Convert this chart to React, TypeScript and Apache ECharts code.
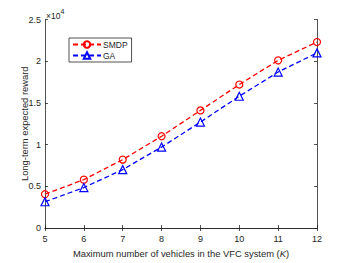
import React, { useEffect, useRef } from "react";
import * as echarts from "echarts";

const categories = [5, 6, 7, 8, 9, 10, 11, 12];
const smdpValues = [4050, 5800, 8200, 11000, 14100, 17200, 20100, 22300];
const gaValues = [3150, 4850, 7000, 9700, 12700, 15800, 18700, 21000];

const FONT = "Liberation Sans";
const AXIS = "#262626";

export default function App() {
  const ref = useRef<HTMLDivElement>(null);
  useEffect(() => {
    if (!ref.current) return;
    const chart = echarts.init(ref.current, null, { renderer: "svg" });
    const mk = (vals: number[]) => categories.map((c, i) => [c, vals[i]]);
    const axisCommon = {
      axisLine: { show: true, lineStyle: { color: AXIS, width: 0.8 } },
      axisTick: { show: true, inside: true, length: 3, lineStyle: { color: AXIS, width: 0.8 } },
      splitLine: { show: false },
    };
    chart.setOption({
      animation: false,
      backgroundColor: "#fff",
      textStyle: { fontFamily: FONT },
      grid: { left: 45, right: 33, top: 19.5, bottom: 29, containLabel: false },
      xAxis: [
        {
          type: "value",
          min: 5,
          max: 12,
          interval: 1,
          ...axisCommon,
          axisLabel: { color: AXIS, fontSize: 9, fontFamily: FONT, margin: 6 },
          name: "{a|Maximum number of vehicles in the VFC system (}{i|K}{a|)}",
          nameLocation: "middle",
          nameGap: 21,
          nameMoveOverlap: false,
          nameTextStyle: {
            rich: {
              a: { fontSize: 9.4, color: AXIS, fontFamily: FONT },
              i: { fontSize: 9.4, color: AXIS, fontFamily: FONT, fontStyle: "italic" },
            },
          },
        },
        {
          type: "value",
          position: "top",
          min: 5,
          max: 12,
          interval: 1,
          ...axisCommon,
          axisLabel: { show: false },
        },
      ],
      yAxis: [
        {
          type: "value",
          min: 0,
          max: 25000,
          interval: 5000,
          ...axisCommon,
          axisLabel: {
            color: AXIS,
            fontSize: 9,
            fontFamily: FONT,
            margin: 4,
            formatter: (v: number) => String(v / 10000),
          },
          name: "Long-term expected reward",
          nameLocation: "middle",
          nameGap: 16,
          nameMoveOverlap: false,
          nameTextStyle: { fontSize: 9.4, color: AXIS, fontFamily: FONT },
        },
        {
          type: "value",
          position: "right",
          min: 0,
          max: 25000,
          interval: 5000,
          ...axisCommon,
          axisLabel: { show: false },
        },
      ],
      legend: {
        orient: "vertical",
        left: 69,
        top: 38,
        width: 56,
        itemWidth: 28,
        itemHeight: 8,
        itemGap: 2,
        padding: [2, 4, 2, 3],
        borderColor: AXIS,
        borderWidth: 0.8,
        backgroundColor: "#fff",
        textStyle: { fontSize: 8.5, color: AXIS, fontFamily: FONT, padding: [0, 0, 0, -3] },
        data: ["SMDP", "GA"],
      },
      graphic: [
        {
          type: "text",
          left: 46,
          top: 8,
          style: {
            text: "{a|×10}{s|4}",
            rich: {
              a: { fontSize: 8.5, fill: AXIS, fontFamily: FONT, verticalAlign: "bottom" },
              s: { fontSize: 7, fill: AXIS, fontFamily: FONT, verticalAlign: "top", padding: [0, 0, 5, 0] },
            },
          },
        },
      ],
      series: [
        {
          name: "SMDP",
          type: "line",
          data: mk(smdpValues),
          symbol: "circle",
          symbolSize: 7,
          lineStyle: { color: "#FF0000", width: 1.3, type: [5, 3] },
          itemStyle: { color: "rgba(255,255,255,0)", borderColor: "#FF0000", borderWidth: 1.2 },
          z: 3,
        },
        {
          name: "GA",
          type: "line",
          data: mk(gaValues),
          symbol: "triangle",
          symbolSize: 8,
          lineStyle: { color: "#0000FF", width: 1.3, type: [5, 3] },
          itemStyle: { color: "rgba(255,255,255,0)", borderColor: "#0000FF", borderWidth: 1.2 },
          z: 3,
        },
      ],
    });
    return () => chart.dispose();
  }, []);
  return (
    <div
      ref={ref}
      style={{ position: "fixed", left: 0, top: 0, width: 350, height: 263 }}
    />
  );
}
